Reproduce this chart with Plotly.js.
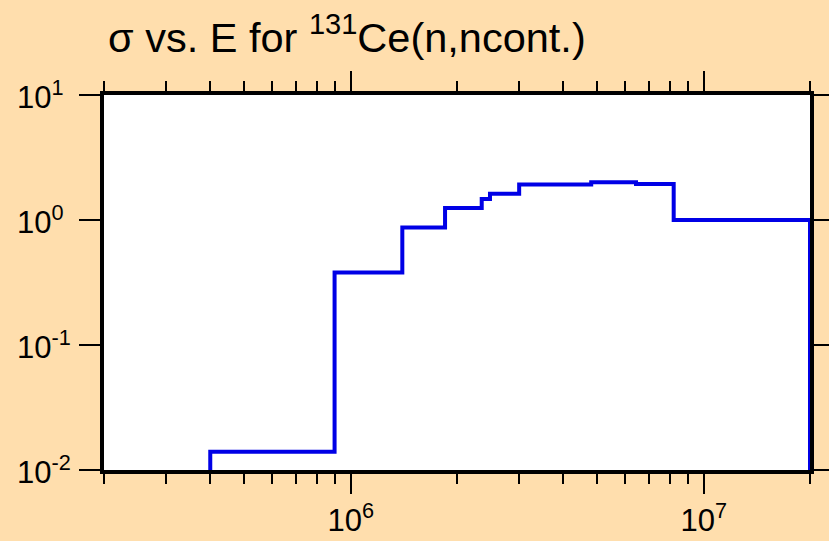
<!DOCTYPE html>
<html>
<head>
<meta charset="utf-8">
<script src="https://cdn.plot.ly/plotly-3.0.1.min.js"></script>
<style>
html,body{margin:0;padding:0;background:#ffdead;}
#chart{width:829px;height:541px;}
</style>
</head>
<body>
<div id="chart"></div>
<script>
// Energy (eV) step boundaries and cross sections (b), drawn as a histogram (hv steps)
const energy = [4.0e5, 4.0e5, 9.0e5, 1.40e6, 1.85e6, 2.35e6, 2.48e6, 3.0e6, 4.8e6, 6.43e6, 8.22e6, 2.0e7];
const sigma  = [1e-6, 0.014, 0.38, 0.87, 1.25, 1.47, 1.62, 1.92, 2.0, 1.94, 1.0, 1e-6];

const xTickVals = [1e6, 1e7];
const xTickText = ['10<sup>6</sup>', '10<sup>7</sup>'];
const xMinorVals = [2e5, 3e5, 4e5, 5e5, 6e5, 7e5, 8e5, 9e5,
                    2e6, 3e6, 4e6, 5e6, 6e6, 7e6, 8e6, 9e6, 2e7];
const yTickVals = [1e-2, 1e-1, 1, 10];
const yTickText = ['10<sup>-2</sup>', '10<sup>-1</sup>', '10<sup>0</sup>', '10<sup>1</sup>'];
const xRange = [2e5, 2e7];
const yRange = [1e-2, 10];

const font = 'Liberation Sans, Arial, sans-serif';

const trace = {
  x: energy, y: sigma, type: 'scatter', mode: 'lines',
  line: {shape: 'hv', color: 'rgb(0,0,230)', width: 4},
  hoverinfo: 'skip', cliponaxis: true
};

const annotations = yTickVals.map((v, i) => ({
  xref: 'paper', yref: 'y', x: -89/706, y: Math.log10(v),
  xanchor: 'left', yanchor: 'middle', showarrow: false,
  text: yTickText[i], font: {family: font, size: 31, color: '#000'}
}));

const layout = {
  width: 829, height: 541,
  paper_bgcolor: '#ffdead', plot_bgcolor: '#ffffff',
  margin: {l: 104, r: 19, t: 95, b: 71, pad: 0},
  showlegend: false,
  title: {
    text: 'σ vs. E for <sup>131</sup>Ce(n,ncont.)',
    font: {family: font, size: 41.5, color: '#000'},
    xref: 'container', x: 108/829, xanchor: 'left',
    yref: 'container', y: 1 - 37/541, yanchor: 'middle'
  },
  xaxis: {
    type: 'log', range: xRange.map(Math.log10),
    tickmode: 'array', tickvals: xTickVals, ticktext: xTickText,
    ticks: 'outside', ticklen: 20, tickwidth: 2, tickcolor: '#000',
    minor: {tickmode: 'array', tickvals: xMinorVals, ticks: 'outside', ticklen: 10, tickwidth: 2, tickcolor: '#000', showgrid: false},
    showline: true, linewidth: 4, linecolor: '#000', mirror: 'allticks',
    showgrid: false, zeroline: false,
    tickfont: {family: font, size: 31, color: '#000'}
  },
  yaxis: {
    type: 'log', range: yRange.map(Math.log10),
    tickmode: 'array', tickvals: yTickVals, ticktext: yTickText,
    showticklabels: false,
    ticks: 'outside', ticklen: 21, tickwidth: 2, tickcolor: '#000',
    showline: true, linewidth: 4, linecolor: '#000', mirror: 'allticks',
    showgrid: false, zeroline: false
  },
  annotations: annotations
};

Plotly.newPlot('chart', [trace], layout, {displayModeBar: false, staticPlot: true});
</script>
</body>
</html>
